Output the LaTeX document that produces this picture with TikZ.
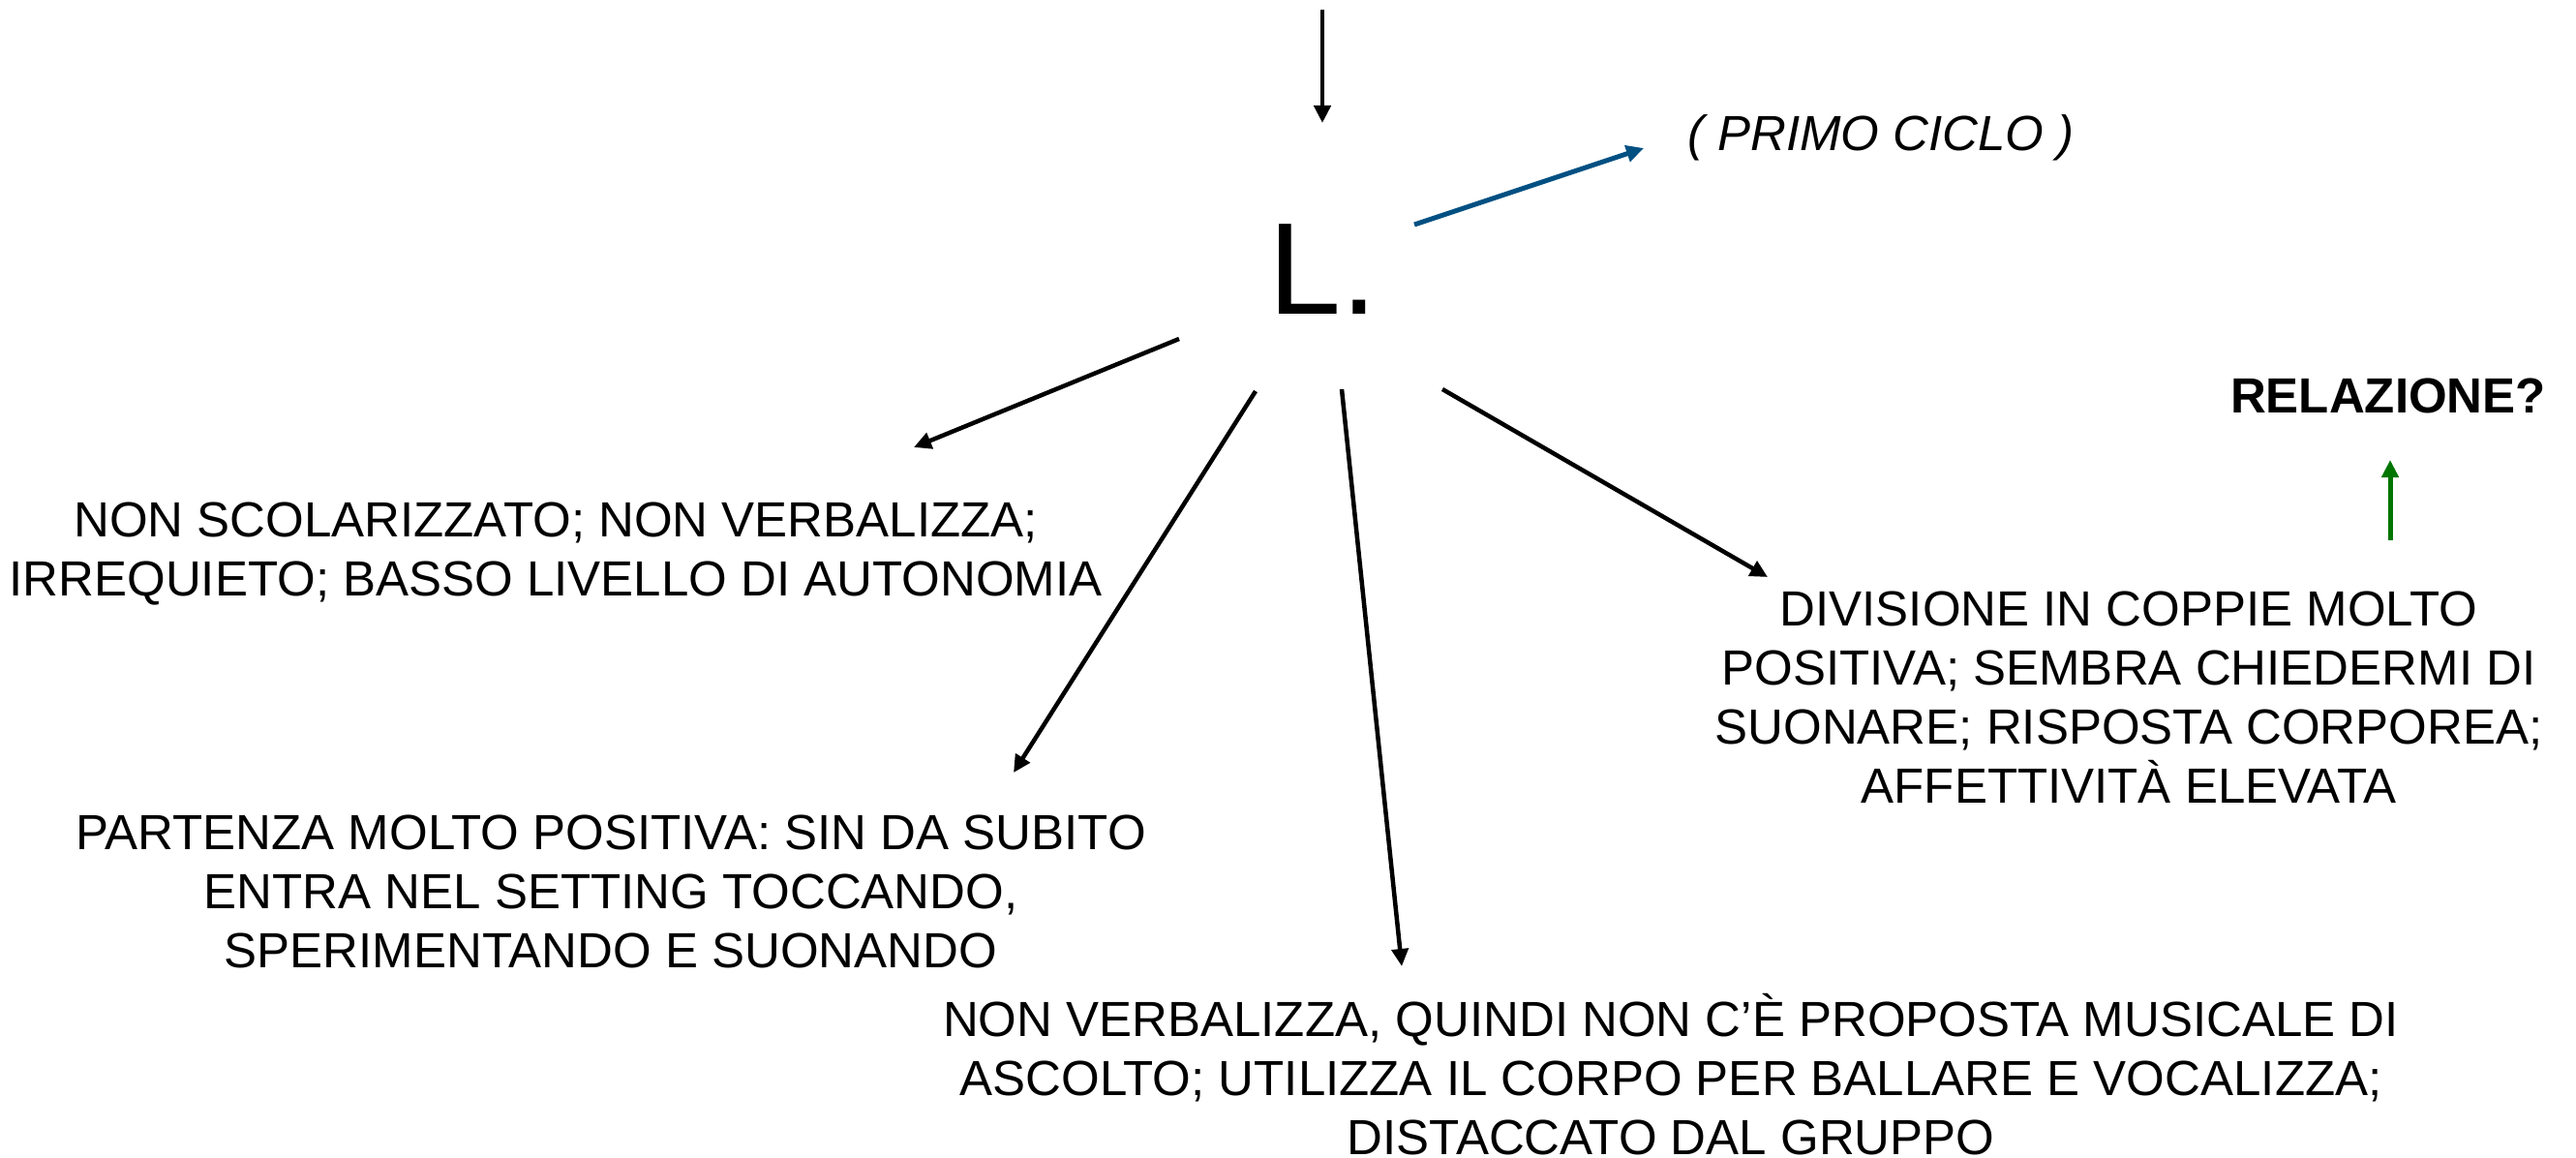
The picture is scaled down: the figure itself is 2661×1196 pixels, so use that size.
\documentclass[tikz,border=0pt]{standalone}
\usepackage{fontspec}
\setmainfont{Liberation Sans}
\usetikzlibrary{arrows.meta}
\definecolor{arrblue}{RGB}{0,80,130}
\definecolor{arrgreen}{RGB}{0,118,0}
\begin{document}
\begin{tikzpicture}[x=1pt,y=-1pt,
  txt/.style={inner sep=0pt,align=center,font=\fontsize{51}{61}\selectfont},
  conn/.style={line width=4.5pt,-{Triangle[length=18pt,width=17pt]}}]
\useasboundingbox (0,0) rectangle (2661,1196);
\node[inner sep=0pt,font=\fontsize{135}{135}\selectfont] (L) at (1367,278) {L.};
\node[txt,font=\fontsize{51}{61}\itshape] (primo) at (1943,142) {( PRIMO CICLO )};
\node[txt] (t1) at (574,572) {NON SCOLARIZZATO; NON VERBALIZZA;\\IRREQUIETO; BASSO LIVELLO DI AUTONOMIA};
\node[txt] (t2) at (631,921) {PARTENZA MOLTO POSITIVA: SIN DA SUBITO\\ENTRA NEL SETTING TOCCANDO,\\SPERIMENTANDO E SUONANDO};
\node[txt] (t3) at (1726,1110) {NON VERBALIZZA, QUINDI NON C’È PROPOSTA MUSICALE DI\\ASCOLTO; UTILIZZA IL CORPO PER BALLARE E VOCALIZZA;\\DISTACCATO DAL GRUPPO};
\node[txt] (t4) at (2199,720) {DIVISIONE IN COPPIE MOLTO\\POSITIVA; SEMBRA CHIEDERMI DI\\SUONARE; RISPOSTA CORPOREA;\\AFFETTIVITÀ ELEVATA};
\node[txt,font=\fontsize{51}{61}\bfseries] (rel) at (2467,409) {RELAZIONE?};
\coordinate (top) at (1366,10);
\coordinate (topend) at (1366,127);
\coordinate (s1) at (1218,350); \coordinate (e1) at (944,462);
\coordinate (s2) at (1297,404); \coordinate (e2) at (1047,798);
\coordinate (s3) at (1386,402); \coordinate (e3) at (1448,998);
\coordinate (s4) at (1490,402); \coordinate (e4) at (1826,596);
\coordinate (sb) at (1461,232); \coordinate (eb) at (1698,153);
\coordinate (sg) at (2469,558); \coordinate (eg) at (2469,475);
\draw[conn] (top) -- (topend);
\draw[conn] (s1) -- (e1);
\draw[conn] (s2) -- (e2);
\draw[conn] (s3) -- (e3);
\draw[conn] (s4) -- (e4);
\draw[conn,arrblue,line width=5pt] (sb) -- (eb);
\draw[conn,arrgreen,line width=5pt] (sg) -- (eg);
\end{tikzpicture}
\end{document}
